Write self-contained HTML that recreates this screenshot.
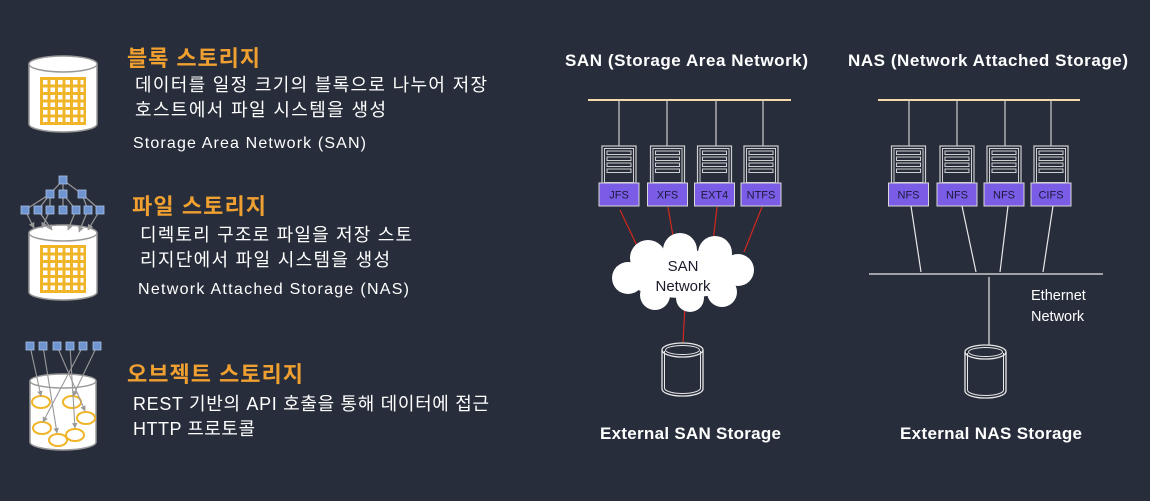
<!DOCTYPE html>
<html><head><meta charset="utf-8"><style>
html,body{margin:0;padding:0;background:#272d3a;}
svg{display:block;}
text{font-family:"Liberation Sans","Noto Sans CJK KR",sans-serif;}
</style></head><body>
<svg width="1150" height="501" viewBox="0 0 1150 501" xmlns="http://www.w3.org/2000/svg">
<defs>
<g id="srv">
  <rect x="-17" y="146" width="34" height="37" fill="none" stroke="#cfcfcf" stroke-width="1.2"/>
  <rect x="-14.5" y="148.5" width="29" height="34" fill="none" stroke="#cfcfcf" stroke-width="1"/>
  <rect x="-12" y="151" width="24" height="3.5" fill="none" stroke="#cfcfcf" stroke-width="1"/>
  <rect x="-12" y="157" width="24" height="3.5" fill="none" stroke="#cfcfcf" stroke-width="1"/>
  <rect x="-12" y="163" width="24" height="3.5" fill="none" stroke="#cfcfcf" stroke-width="1"/>
  <rect x="-12" y="169" width="24" height="3.5" fill="none" stroke="#cfcfcf" stroke-width="1"/>
  <rect x="-20" y="183" width="40" height="23" fill="#7b5ce6" stroke="#d8d8d8" stroke-width="1"/>
</g>
<g id="cyl">
  <path d="M0 7 L0 46 A20.5 7 0 0 0 41 46 L41 7" fill="none" stroke="#e8e8e8" stroke-width="1.3"/>
  <path d="M2.5 8 L2.5 45 A18 5.5 0 0 0 38.5 45 L38.5 8" fill="none" stroke="#e8e8e8" stroke-width="1"/>
  <ellipse cx="20.5" cy="7" rx="20.5" ry="7" fill="none" stroke="#e8e8e8" stroke-width="1.3"/>
  <ellipse cx="20.5" cy="7" rx="17" ry="4.5" fill="none" stroke="#e8e8e8" stroke-width="1"/>
</g>
<marker id="ah" viewBox="0 0 10 10" refX="9" refY="5" markerWidth="5" markerHeight="5" orient="auto"><path d="M0 0L10 5L0 10z" fill="#999"/></marker>
</defs>

<!-- Block storage cylinder -->
<path d="M29 64 L29 124 A34 8 0 0 0 97 124 L97 64" fill="#fff" stroke="#999" stroke-width="1.5"/>
<ellipse cx="63" cy="64" rx="34" ry="8" fill="#fff" stroke="#999" stroke-width="1.5"/>
<g id="g1">
<rect x="40" y="77" width="46" height="48" fill="#f0b429"/>
<g fill="#fff">
<rect x="43" y="80" width="4.5" height="4.5"/><rect x="50.5" y="80" width="4.5" height="4.5"/><rect x="58" y="80" width="4.5" height="4.5"/><rect x="65.5" y="80" width="4.5" height="4.5"/><rect x="73" y="80" width="4.5" height="4.5"/><rect x="80.5" y="80" width="3" height="4.5"/>
<rect x="43" y="87.5" width="4.5" height="4.5"/><rect x="50.5" y="87.5" width="4.5" height="4.5"/><rect x="58" y="87.5" width="4.5" height="4.5"/><rect x="65.5" y="87.5" width="4.5" height="4.5"/><rect x="73" y="87.5" width="4.5" height="4.5"/><rect x="80.5" y="87.5" width="3" height="4.5"/>
<rect x="43" y="95" width="4.5" height="4.5"/><rect x="50.5" y="95" width="4.5" height="4.5"/><rect x="58" y="95" width="4.5" height="4.5"/><rect x="65.5" y="95" width="4.5" height="4.5"/><rect x="73" y="95" width="4.5" height="4.5"/><rect x="80.5" y="95" width="3" height="4.5"/>
<rect x="43" y="102.5" width="4.5" height="4.5"/><rect x="50.5" y="102.5" width="4.5" height="4.5"/><rect x="58" y="102.5" width="4.5" height="4.5"/><rect x="65.5" y="102.5" width="4.5" height="4.5"/><rect x="73" y="102.5" width="4.5" height="4.5"/><rect x="80.5" y="102.5" width="3" height="4.5"/>
<rect x="43" y="110" width="4.5" height="4.5"/><rect x="50.5" y="110" width="4.5" height="4.5"/><rect x="58" y="110" width="4.5" height="4.5"/><rect x="65.5" y="110" width="4.5" height="4.5"/><rect x="73" y="110" width="4.5" height="4.5"/><rect x="80.5" y="110" width="3" height="4.5"/>
<rect x="43" y="117.5" width="4.5" height="4.5"/><rect x="50.5" y="117.5" width="4.5" height="4.5"/><rect x="58" y="117.5" width="4.5" height="4.5"/><rect x="65.5" y="117.5" width="4.5" height="4.5"/><rect x="73" y="117.5" width="4.5" height="4.5"/><rect x="80.5" y="117.5" width="3" height="4.5"/>
</g>
</g>

<!-- File storage cylinder -->
<path d="M29 233 L29 292 A34 8 0 0 0 97 292 L97 233" fill="#fff" stroke="#999" stroke-width="1.5"/>
<ellipse cx="63" cy="233" rx="34" ry="8" fill="#fff" stroke="#999" stroke-width="1.5"/>
<use href="#g1" transform="translate(0,168)"/>
<g stroke="#999" stroke-width="1.2" fill="none">
<line x1="63" y1="180" x2="50" y2="194"/><line x1="63" y1="180" x2="63" y2="194"/><line x1="63" y1="180" x2="82" y2="194"/>
<line x1="50" y1="194" x2="25" y2="210"/><line x1="50" y1="194" x2="38" y2="210"/><line x1="50" y1="194" x2="50" y2="210"/>
<line x1="63" y1="194" x2="63" y2="210"/><line x1="63" y1="194" x2="76" y2="210"/>
<line x1="82" y1="194" x2="88" y2="210"/><line x1="82" y1="194" x2="100" y2="210"/>
<line x1="25" y1="210" x2="34" y2="228" marker-end="url(#ah)"/><line x1="38" y1="210" x2="52" y2="230" marker-end="url(#ah)"/>
<line x1="50" y1="210" x2="42" y2="228" marker-end="url(#ah)"/><line x1="76" y1="210" x2="68" y2="230" marker-end="url(#ah)"/>
<line x1="88" y1="210" x2="79" y2="232" marker-end="url(#ah)"/><line x1="100" y1="210" x2="88" y2="230" marker-end="url(#ah)"/>
</g>
<g fill="#6f95d0" stroke="#a9c0e6" stroke-width="0.8">
<rect x="59" y="176" width="8" height="8"/>
<rect x="46" y="190" width="8" height="8"/><rect x="59" y="190" width="8" height="8"/><rect x="78" y="190" width="8" height="8"/>
<rect x="21" y="206" width="8" height="8"/><rect x="34" y="206" width="8" height="8"/><rect x="46" y="206" width="8" height="8"/><rect x="59" y="206" width="8" height="8"/><rect x="72" y="206" width="8" height="8"/><rect x="84" y="206" width="8" height="8"/><rect x="96" y="206" width="8" height="8"/>
</g>

<!-- Object storage -->
<path d="M30 381 L30 442 A33 8 0 0 0 96 442 L96 381" fill="#fff" stroke="#999" stroke-width="1.5"/>
<ellipse cx="63" cy="381" rx="33" ry="7" fill="#fff" stroke="#999" stroke-width="1.5"/>
<g fill="none" stroke="#f0b429" stroke-width="2">
<ellipse cx="41" cy="402" rx="9" ry="6"/><ellipse cx="72" cy="402" rx="9" ry="6"/><ellipse cx="86" cy="418" rx="9" ry="6"/>
<ellipse cx="42" cy="428" rx="9" ry="6"/><ellipse cx="58" cy="440" rx="9" ry="6"/><ellipse cx="75" cy="435" rx="9" ry="6"/>
</g>
<g stroke="#999" stroke-width="1.1" fill="none">
<line x1="30" y1="346" x2="41" y2="396" marker-end="url(#ah)"/>
<line x1="43" y1="346" x2="57" y2="433" marker-end="url(#ah)"/>
<line x1="57" y1="346" x2="85" y2="411" marker-end="url(#ah)"/>
<line x1="70" y1="346" x2="75" y2="428" marker-end="url(#ah)"/>
<line x1="83" y1="346" x2="43" y2="422" marker-end="url(#ah)"/>
<line x1="97" y1="346" x2="73" y2="396" marker-end="url(#ah)"/>
</g>
<g fill="#6f95d0" stroke="#a9c0e6" stroke-width="0.8">
<rect x="26" y="342" width="8" height="8"/><rect x="39" y="342" width="8" height="8"/><rect x="53" y="342" width="8" height="8"/><rect x="66" y="342" width="8" height="8"/><rect x="79" y="342" width="8" height="8"/><rect x="93" y="342" width="8" height="8"/>
</g>

<!-- Left texts -->
<g fill="#f0a030" font-weight="bold" font-size="22">
<text x="127" y="66" textLength="133">블록 스토리지</text>
<text x="132" y="214" textLength="134">파일 스토리지</text>
<text x="127" y="382" textLength="176">오브젝트 스토리지</text>
</g>
<g fill="#fff" font-size="18">
<text x="135" y="91" textLength="352">데이터를 일정 크기의 블록으로 나누어 저장</text>
<text x="135" y="116" textLength="251">호스트에서 파일 시스템을 생성</text>
<text x="133" y="148" font-size="16" textLength="233">Storage Area Network (SAN)</text>
<text x="140" y="241" textLength="272">디렉토리 구조로 파일을 저장 스토</text>
<text x="140" y="266" textLength="250">리지단에서 파일 시스템을 생성</text>
<text x="138" y="294" font-size="16" textLength="271">Network Attached Storage (NAS)</text>
<text x="133" y="410" textLength="356">REST 기반의 API 호출을 통해 데이터에 접근</text>
<text x="133" y="435" textLength="122">HTTP 프로토콜</text>
</g>

<!-- Right titles -->
<g fill="#fff" font-weight="bold" font-size="17">
<text x="565" y="66" textLength="243">SAN (Storage Area Network)</text>
<text x="848" y="66" textLength="280">NAS (Network Attached Storage)</text>
<text x="600" y="439" textLength="181">External SAN Storage</text>
<text x="900" y="439" textLength="182">External NAS Storage</text>
</g>

<!-- SAN -->
<line x1="588" y1="100" x2="791" y2="100" stroke="#f5d9a8" stroke-width="2"/>
<g stroke="#cfcfcf" stroke-width="1.2">
<line x1="619" y1="100" x2="619" y2="146"/><line x1="667" y1="100" x2="667" y2="146"/><line x1="716" y1="100" x2="716" y2="146"/><line x1="763" y1="100" x2="763" y2="146"/>
</g>
<use href="#srv" x="619"/><use href="#srv" x="667.5"/><use href="#srv" x="714.5"/><use href="#srv" x="761"/>
<g fill="#1a1a3a" font-size="11" text-anchor="middle">
<text x="619" y="198.5">JFS</text><text x="667.5" y="198.5">XFS</text><text x="714.5" y="198.5">EXT4</text><text x="761" y="198.5">NTFS</text>
</g>
<g stroke="#d0281e" stroke-width="1.2">
<line x1="620" y1="210" x2="639" y2="250"/><line x1="668" y1="207" x2="674" y2="242"/>
<line x1="717" y1="207" x2="713" y2="242"/><line x1="762" y1="207" x2="744" y2="252"/>
<line x1="685" y1="305" x2="683" y2="343"/>
</g>
<g fill="#fff">
<ellipse cx="683" cy="274" rx="60" ry="24"/>
<circle cx="648" cy="258" r="18"/><circle cx="680" cy="250" r="17"/><circle cx="715" cy="253" r="17"/>
<circle cx="738" cy="270" r="16"/><circle cx="628" cy="278" r="16"/><circle cx="655" cy="295" r="15"/>
<circle cx="690" cy="298" r="14"/><circle cx="722" cy="292" r="15"/>
</g>
<g fill="#1a1a2a" font-size="15" text-anchor="middle">
<text x="683" y="271">SAN</text><text x="683" y="291">Network</text>
</g>
<use href="#cyl" x="662" y="343"/>

<!-- NAS -->
<line x1="878" y1="100" x2="1080" y2="100" stroke="#f5d9a8" stroke-width="2"/>
<g stroke="#cfcfcf" stroke-width="1.2">
<line x1="909" y1="100" x2="909" y2="146"/><line x1="957" y1="100" x2="957" y2="146"/><line x1="1005" y1="100" x2="1005" y2="146"/><line x1="1051" y1="100" x2="1051" y2="146"/>
</g>
<use href="#srv" x="908.5"/><use href="#srv" x="957"/><use href="#srv" x="1004"/><use href="#srv" x="1051"/>
<g fill="#1a1a3a" font-size="11" text-anchor="middle">
<text x="908.5" y="198.5">NFS</text><text x="957" y="198.5">NFS</text><text x="1004" y="198.5">NFS</text><text x="1051" y="198.5">CIFS</text>
</g>
<g stroke="#e8e8e8" stroke-width="1.2">
<line x1="911" y1="206" x2="921" y2="272"/><line x1="962" y1="206" x2="976" y2="272"/>
<line x1="1008" y1="206" x2="1000" y2="272"/><line x1="1053" y1="206" x2="1043" y2="272"/>
<line x1="869" y1="274" x2="1103" y2="274"/>
<line x1="989" y1="277" x2="989" y2="345"/>
</g>
<use href="#cyl" x="965" y="345"/>
<g fill="#fff" font-size="14.5">
<text x="1031" y="300">Ethernet</text><text x="1031" y="321">Network</text>
</g>
</svg>
</body></html>
